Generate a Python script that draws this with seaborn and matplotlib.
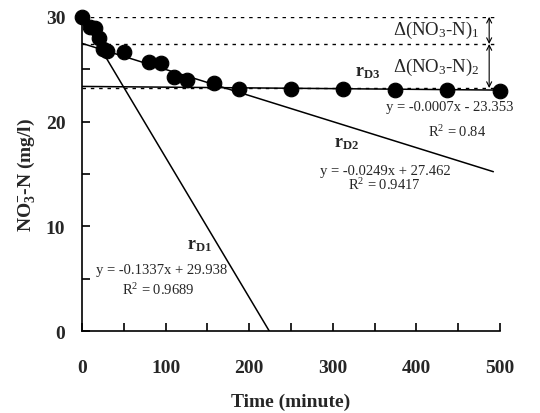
import numpy as np
import pandas as pd
import seaborn as sns
import matplotlib.pyplot as plt

# measured nitrate concentrations
time_min = [0, 10, 15, 20, 25, 30, 50, 80, 95, 110, 125, 158, 188, 250, 312, 374, 437, 500]
no3_n = [30.0, 29.0, 28.9, 28.0, 26.9, 26.7, 26.6, 25.7, 25.6, 24.3, 24.0, 23.7,
         23.15, 23.15, 23.15, 23.05, 23.0, 22.9]

# regression lines: name, slope, intercept, x range
fit_names = ["rD1", "rD2", "rD3"]
fit_slopes = [-0.1337, -0.0249, -0.0007]
fit_intercepts = [29.938, 27.462, 23.353]
fit_x_end = [224, 492, 500]

# reference levels for the delta arrows
levels = [30.0, 27.4, 23.2]

sns.set_theme(style="ticks")
plt.rcParams["font.family"] = ["Liberation Serif", "DejaVu Serif"]
plt.rcParams["mathtext.fontset"] = "custom"
plt.rcParams["mathtext.rm"] = "Liberation Serif"
plt.rcParams["mathtext.it"] = "Liberation Serif:italic"
plt.rcParams["mathtext.bf"] = "Liberation Serif:bold"

df = pd.DataFrame({"Time": time_min, "NO3": no3_n})

fig, ax = plt.subplots(figsize=(5.4, 4.14), dpi=100)
fig.subplots_adjust(left=0.152, right=0.926, top=0.957, bottom=0.198)

for m, b, xe in zip(fit_slopes, fit_intercepts, fit_x_end):
    xs = np.array([0, xe])
    ax.plot(xs, m * xs + b, color="black", lw=1.1, zorder=2)

for lv in levels:
    ax.plot([0, 493], [lv, lv], color="black", lw=1.0, ls=(0, (2.5, 3.5)), zorder=1)

sns.scatterplot(data=df, x="Time", y="NO3", color="black", s=110, edgecolor="black",
                ax=ax, zorder=3, clip_on=False)

# double-headed arrows
for y0, y1 in [(levels[0], levels[1]), (levels[1], levels[2])]:
    ax.annotate("", xy=(487, y1), xytext=(487, y0),
                arrowprops=dict(arrowstyle="<->", color="black", lw=0.8,
                                shrinkA=0, shrinkB=0, mutation_scale=9),
                annotation_clip=False)

ax.text(476, 28.75, r"$\Delta$(NO$_3$-N)$_1$", ha="right", va="center", fontsize=13.5)
ax.text(476, 25.3, r"$\Delta$(NO$_3$-N)$_2$", ha="right", va="center", fontsize=13.5)

ax.text(342, 24.8, r"$\mathbf{r_{D3}}$", ha="center", va="center", fontsize=13)
ax.text(440, 21.4, "y = -0.0007x - 23.353", ha="center", va="center", fontsize=10.5)
ax.text(449, 19.1, r"R$^2$ = 0.84", ha="center", va="center", fontsize=10.5)

ax.text(316, 18.0, r"$\mathbf{r_{D2}}$", ha="center", va="center", fontsize=13)
ax.text(363, 15.3, "y = -0.0249x + 27.462", ha="center", va="center", fontsize=10.5)
ax.text(362, 14.0, r"R$^2$ = 0.9417", ha="center", va="center", fontsize=10.5)

ax.text(140, 8.3, r"$\mathbf{r_{D1}}$", ha="center", va="center", fontsize=13)
ax.text(95, 5.9, "y = -0.1337x + 29.938", ha="center", va="center", fontsize=10.5)
ax.text(91, 4.0, r"R$^2$ = 0.9689", ha="center", va="center", fontsize=10.5)

ax.set_xlim(0, 500)
ax.set_ylim(0, 30)
ax.set_xticks([0, 100, 200, 300, 400, 500])
ax.set_xticks(np.arange(50, 500, 100), minor=True)
ax.set_yticks([0, 10, 20, 30])
ax.set_yticks([5, 15, 25], minor=True)
ax.tick_params(which="both", direction="in", length=6, width=1.2, color="black")
ax.tick_params(axis="x", pad=20, labelsize=14)
ax.tick_params(axis="y", pad=12, labelsize=14)
for lab in ax.get_xticklabels() + ax.get_yticklabels():
    lab.set_fontweight("bold")

ax.set_xlabel("Time (minute)", fontsize=14, fontweight="bold", labelpad=12)
ax.set_ylabel(r"NO$_\mathbf{3}^{\mathbf{-}}$-N (mg/l)", fontsize=14, fontweight="bold", labelpad=6)

sns.despine(ax=ax)
for sp in ["left", "bottom"]:
    ax.spines[sp].set_linewidth(1.2)
    ax.spines[sp].set_color("black")

fig.savefig("out.png", dpi=100)
